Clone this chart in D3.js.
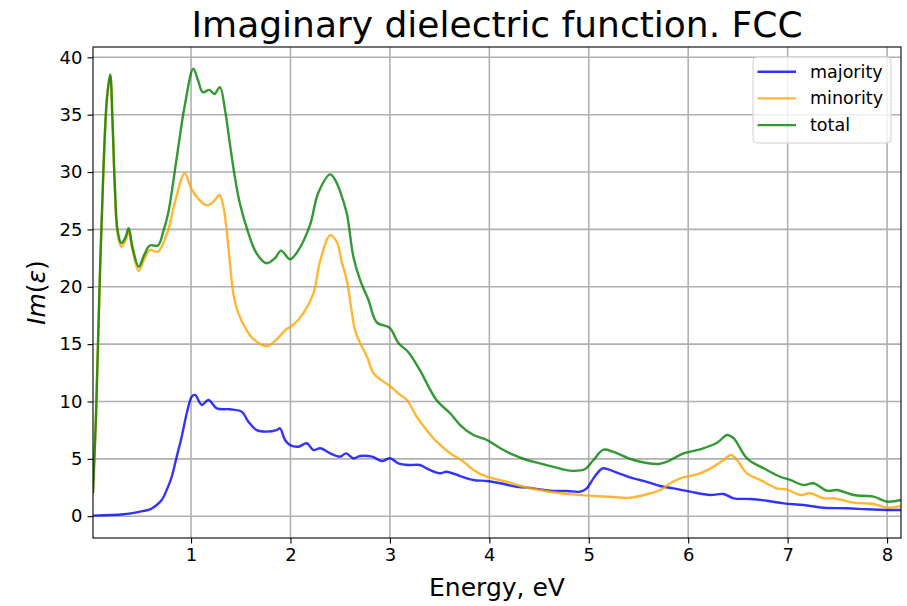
<!DOCTYPE html>
<html>
<head>
<meta charset="utf-8">
<script src="https://cdn.jsdelivr.net/npm/d3@7"></script>
<style>
  html, body { margin: 0; padding: 0; background: #fff; }
  svg { display: block; font-family: "DejaVu Sans", sans-serif; }
</style>
</head>
<body>
<svg id="chart" width="907" height="606"></svg>
<script>
// Im(eps) spectra, energy in eV
const majorityE = [0.016,0.32,0.487,0.587,0.655,0.705,0.755,0.806,0.856,0.906,0.957,1.007,1.04,1.108,1.175,1.259,1.393,1.51,1.577,1.66,1.76,1.86,1.895,1.945,1.996,2.08,2.164,2.23,2.30,2.40,2.50,2.56,2.633,2.70,2.82,2.92,3.00,3.085,3.20,3.30,3.40,3.505,3.57,3.706,3.84,3.975,4.11,4.276,4.443,4.61,4.78,4.91,4.98,5.047,5.115,5.148,5.282,5.45,5.584,5.718,5.85,6.02,6.22,6.355,6.456,6.62,6.79,6.96,7.16,7.36,7.597,7.8,8.0,8.14];
const majorityV = [0.05,0.17,0.4,0.6,0.98,1.41,2.28,3.44,5.19,6.93,8.97,10.42,10.57,9.7,10.13,9.4,9.32,9.1,8.24,7.5,7.37,7.5,7.66,6.64,6.2,6.06,6.36,5.77,5.92,5.48,5.19,5.48,5.05,5.25,5.19,4.81,5.05,4.61,4.46,4.46,4.03,3.74,3.88,3.5,3.16,3.07,2.87,2.57,2.43,2.22,2.2,2.14,2.43,3.3,4.03,4.18,3.8,3.3,3.0,2.63,2.43,2.14,1.85,1.94,1.56,1.5,1.35,1.12,0.98,0.74,0.69,0.6,0.54,0.54];

const minorityE = [0.014,0.045,0.081,0.12,0.155,0.187,0.21,0.235,0.26,0.298,0.34,0.373,0.41,0.474,0.53,0.585,0.668,0.77,0.836,0.937,1.0,1.07,1.157,1.224,1.285,1.325,1.375,1.425,1.475,1.56,1.62,1.76,1.86,1.945,2.03,2.13,2.23,2.30,2.40,2.466,2.52,2.566,2.65,2.70,2.77,2.835,2.935,3.00,3.085,3.17,3.27,3.37,3.47,3.606,3.74,3.84,3.975,4.176,4.343,4.51,4.68,4.846,5.047,5.215,5.42,5.62,5.72,5.82,5.92,6.12,6.25,6.355,6.43,6.49,6.59,6.725,6.89,6.99,7.127,7.228,7.36,7.46,7.663,7.864,8.0,8.14];
const minorityV = [2.0,9.0,20.3,30.5,36.4,38.4,34.3,28.2,24.7,23.5,24.0,24.8,23.2,21.4,22.4,23.2,23.06,24.95,27.3,29.9,28.6,27.7,27.1,27.4,28.0,27.0,23.5,19.4,17.7,16.2,15.5,14.8,15.4,16.2,16.7,17.7,19.4,22.3,24.5,23.9,22.0,20.6,16.2,15.1,13.9,12.46,11.73,11.35,10.7,10.13,8.67,7.5,6.5,5.48,4.75,4.03,3.44,3.0,2.57,2.28,2.05,1.9,1.76,1.7,1.61,2.0,2.28,2.87,3.3,3.74,4.3,4.9,5.34,4.9,3.74,3.16,2.43,2.34,1.85,2.0,1.56,1.56,1.18,1.06,0.74,0.89];

const totalE = [0.014,0.045,0.081,0.12,0.155,0.187,0.21,0.235,0.26,0.298,0.34,0.373,0.41,0.474,0.53,0.585,0.668,0.72,0.77,0.852,0.937,1.023,1.07,1.118,1.184,1.234,1.29,1.342,1.39,1.44,1.49,1.576,1.66,1.76,1.845,1.905,1.996,2.08,2.197,2.28,2.40,2.45,2.50,2.566,2.633,2.70,2.784,2.868,3.00,3.085,3.186,3.30,3.47,3.606,3.706,3.84,3.975,4.11,4.243,4.377,4.51,4.645,4.81,4.958,5.047,5.148,5.25,5.45,5.70,5.786,5.953,6.12,6.29,6.39,6.456,6.59,6.758,6.925,7.026,7.16,7.26,7.395,7.496,7.663,7.864,8.0,8.14];
const totalV = [2.0,9.0,20.3,30.5,36.5,38.5,34.5,28.5,25.0,23.8,24.3,25.1,23.5,21.75,22.8,23.6,23.6,24.8,26.4,31.0,35.8,39.0,38.0,36.96,37.16,36.8,37.4,35.4,32.5,29.6,27.3,24.7,22.9,22.05,22.5,23.15,22.4,23.2,25.4,28.2,29.8,29.3,28.3,26.4,22.6,20.6,18.85,16.9,16.4,15.1,14.3,12.75,10.1,8.97,7.95,7.08,6.64,5.92,5.34,4.9,4.6,4.3,3.97,4.09,4.9,5.8,5.6,4.9,4.55,4.75,5.48,5.83,6.4,7.08,6.8,5.05,4.18,3.44,3.16,2.72,2.87,2.22,2.28,1.85,1.7,1.27,1.41];

const xTicks = [1, 2, 3, 4, 5, 6, 7, 8];
const yTicks = [0, 5, 10, 15, 20, 25, 30, 35, 40];
const seriesNames = ["majority", "minority", "total"];
const seriesColors = ["blue", "orange", "green"];

const series = [
  { name: seriesNames[0], color: seriesColors[0], pts: majorityE.map((e, i) => [e, majorityV[i]]) },
  { name: seriesNames[1], color: seriesColors[1], pts: minorityE.map((e, i) => [e, minorityV[i]]) },
  { name: seriesNames[2], color: seriesColors[2], pts: totalE.map((e, i) => [e, totalV[i]]) }
];

const svg = d3.select("#chart");
const m = { left: 93, top: 47, right: 901, bottom: 538 };

const x = d3.scaleLinear().domain([0.014, 8.14]).range([m.left, m.right]);
const y = d3.scaleLinear().domain([-1.9, 40.9]).range([m.bottom, m.top]);

// grid
const grid = svg.append("g").attr("stroke", "#b0b0b0").attr("stroke-width", 1.6);
grid.selectAll(".gx").data(xTicks).join("line")
  .attr("x1", d => x(d)).attr("x2", d => x(d))
  .attr("y1", m.top).attr("y2", m.bottom);
grid.selectAll(".gy").data(yTicks).join("line")
  .attr("y1", d => y(d)).attr("y2", d => y(d))
  .attr("x1", m.left).attr("x2", m.right);

svg.append("clipPath").attr("id", "plotclip").append("rect")
  .attr("x", m.left).attr("y", m.top)
  .attr("width", m.right - m.left).attr("height", m.bottom - m.top);

const line = d3.line().x(d => x(d[0])).y(d => y(d[1])).curve(d3.curveCatmullRom.alpha(0.5));

svg.append("g").attr("clip-path", "url(#plotclip)")
  .selectAll("path").data(series).join("path")
  .attr("d", d => line(d.pts))
  .attr("fill", "none")
  .attr("stroke", d => d.color)
  .attr("stroke-opacity", 0.8)
  .attr("stroke-width", 2.4)
  .attr("stroke-linejoin", "round");

// axes
const xAxis = d3.axisBottom(x).tickValues(xTicks).tickSize(5.5).tickPadding(5).tickFormat(d3.format("d"));
const yAxis = d3.axisLeft(y).tickValues(yTicks).tickSize(5.5).tickPadding(5).tickFormat(d3.format("d"));

const gx = svg.append("g").attr("transform", `translate(0,${m.bottom})`).call(xAxis);
const gy = svg.append("g").attr("transform", `translate(${m.left},0)`).call(yAxis);
[gx, gy].forEach(g => {
  g.select(".domain").remove();
  g.selectAll(".tick line").attr("stroke", "#000").attr("stroke-width", 1.1);
  g.selectAll(".tick text").attr("fill", "#000").attr("font-size", 18)
    .attr("font-family", "DejaVu Sans, sans-serif");
});

// frame
svg.append("rect").attr("x", m.left).attr("y", m.top)
  .attr("width", m.right - m.left).attr("height", m.bottom - m.top)
  .attr("fill", "none").attr("stroke", "#000").attr("stroke-width", 1.1);

// title and labels
svg.append("text").attr("x", (m.left + m.right) / 2).attr("y", 37)
  .attr("text-anchor", "middle").attr("font-size", 36).attr("fill", "#000")
  .text("Imaginary dielectric function. FCC");

svg.append("text").attr("x", (m.left + m.right) / 2).attr("y", 596)
  .attr("text-anchor", "middle").attr("font-size", 25).attr("fill", "#000")
  .text("Energy, eV");

const yl = svg.append("text")
  .attr("transform", `translate(45,${(m.top + m.bottom) / 2}) rotate(-90)`)
  .attr("text-anchor", "middle").attr("font-size", 25).attr("fill", "#000");
yl.append("tspan").attr("font-style", "italic").text("Im");
yl.append("tspan").text("(");
yl.append("tspan").attr("font-style", "italic").text("ε");
yl.append("tspan").text(")");

// legend
const lg = svg.append("g").attr("transform", "translate(753,57)");
lg.append("rect").attr("width", 138).attr("height", 86).attr("rx", 4)
  .attr("fill", "#fff").attr("fill-opacity", 0.8)
  .attr("stroke", "#d0d0d0").attr("stroke-width", 1);
const items = lg.selectAll(".item").data(series).join("g")
  .attr("transform", (d, i) => `translate(0,${14.7 + i * 26.7})`);
items.append("line").attr("x1", 4.5).attr("x2", 43)
  .attr("stroke", d => d.color).attr("stroke-opacity", 0.8).attr("stroke-width", 2.4);
items.append("text").attr("x", 57).attr("y", 6).attr("font-size", 17.5).attr("fill", "#000")
  .text(d => d.name);
</script>
</body>
</html>
